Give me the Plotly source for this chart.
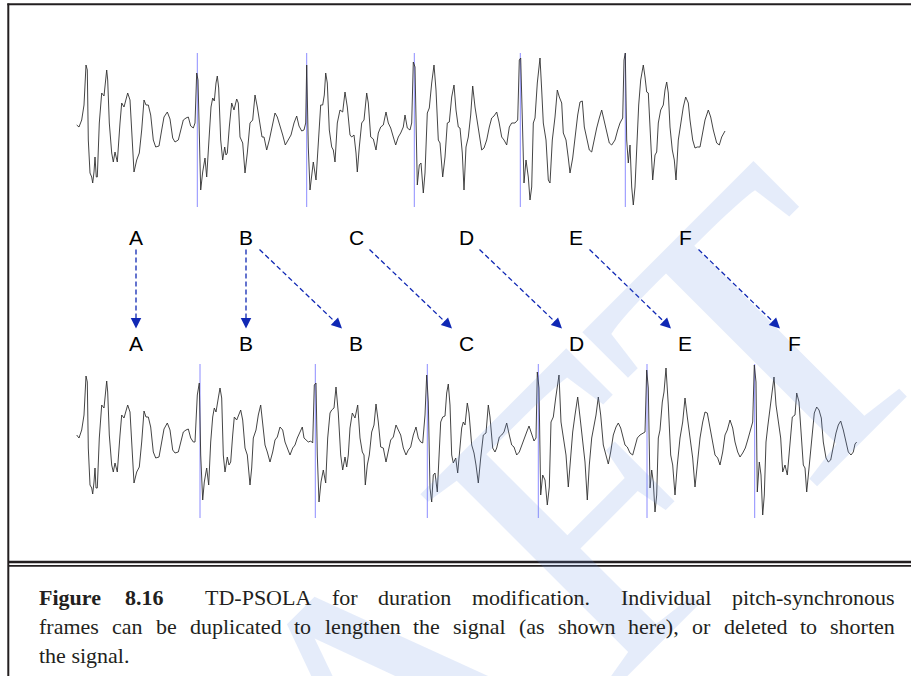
import plotly.graph_objects as go

# ---------------- data ----------------
# time axis in samples, amplitude in arbitrary units (baseline = 0)
top_t = [0.7, 3, 5.7, 8, 10, 11.3, 12.3, 14, 15.7, 16.7,
         18, 19, 20.3, 21.3, 23.3, 25.7, 28, 30.7, 31.7, 33.3,
         35.7, 37.3, 39, 41.3, 44, 45.7, 48, 51.7, 54, 55.7,
         58, 60.7, 63.3, 65.7, 68, 70, 72.3, 74.7, 77.3, 79.7,
         83, 85.7, 88, 91.3, 94, 96.7, 99, 102.3, 104.7, 107.3,
         110, 112.3, 114.7, 117.3, 119, 120.7, 122, 123.3, 124.7, 126.7,
         129, 130.7, 133.3, 135, 136.7, 138.3, 140, 141.3, 142.7, 144.7,
         146.7, 148.7, 150, 151.3, 153.3, 155.7, 158, 160.7, 162.3, 164,
         166.7, 169, 171.3, 174, 176.7, 179, 181.3, 184, 186, 188,
         190.7, 193.3, 195.7, 199, 201.3, 204, 206.7, 209.3, 212.3, 215,
         218, 220.7, 223, 225.7, 228, 229.7, 230.7, 232.3, 234, 235.7,
         237.3, 240, 242.3, 244.7, 246.7, 248.3, 249.7, 251.3, 253.3, 255.7,
         257.3, 259, 261.3, 264, 266.7, 269, 271.3, 274, 275.7, 278,
         280, 281.3, 283.3, 285.7, 288, 290.7, 292.3, 294.7, 297.3, 300,
         302.3, 304.7, 307.3, 310, 312.3, 314.7, 317.3, 319.7, 322.3, 324.7,
         327.3, 329, 331.3, 334, 335.7, 337.3, 339, 340, 341.3, 343.3,
         345, 347.3, 349, 351.3, 353.3, 355.7, 358, 360, 362.3, 364,
         366.7, 369, 371.3, 373.3, 375.7, 378, 380, 382.3, 384, 386.3,
         388, 390, 392.3, 394.7, 396.7, 399, 400.7, 403.3, 405.7, 408,
         410.7, 413.3, 415.7, 418, 420.7, 423, 425.7, 428, 430.7, 433.3,
         435.7, 439, 441.7, 443.3, 444.7, 446.7, 448, 450, 452.3, 454,
         455.7, 457.3, 459, 461.3, 464, 465.7, 467.3, 470, 472.3, 474,
         476.3, 479, 481.3, 483.3, 485.7, 487.3, 490, 492.3, 494, 496.7,
         499, 501.7, 504, 506.3, 508.3, 510.7, 513.3, 515.7, 518, 520.7,
         523.3, 525.7, 528, 530.7, 533.3, 535.7, 539, 541.7, 544, 546.7,
         548, 549.3, 550.7, 552.3, 554, 555.7, 557.3, 559, 560.7, 562.7,
         564.7, 567.3, 569, 570.7, 572.3, 574.7, 576.7, 579, 580.7, 582.3,
         584.7, 587.3, 589, 590.7, 592.3, 594, 596.3, 598.3, 600, 602.3,
         604.7, 607.3, 609.7, 612.3, 614, 616.7, 619, 621.3, 624, 626.7,
         629, 632.3, 634.7, 637.3, 640.7, 643.3, 645.7, 649]
top_a = [5, 3, 10, 25, 65, 60, -10, -43, -47, -53,
         -42, -27, -47, -47, 7, 37, 34, 60, 50, 7,
         -23, -32, -22, -32, 7, 27, 23, 37, 30, 3,
         -42, -30, -23, 0, 30, 25, 25, 15, -10, -17,
         -16, 0, 13, 18, 11, -8, -12, -10, 0, 10,
         12, 13, 4, 2, 7, 57, 50, -17, -60, -42,
         -28, -47, 0, 23, 32, 29, 47, 54, 42, -10,
         -30, -17, -25, -23, 3, 27, 20, 31, 27, -7,
         -13, -43, -23, 7, 10, 35, 23, 7, -7, -7,
         -20, -10, 2, 17, 13, 5, -5, -15, -10, -5,
         7, 14, 4, -1, 0, 7, 65, -17, -60, -43,
         -32, -50, -7, 25, 25, 35, 57, 47, 0, -17,
         -20, -32, 7, 20, 18, 38, 23, -5, -7, -5,
         -23, -42, -17, 7, 10, 37, 27, -7, -9, -20,
         -3, 3, 5, 18, 7, 2, -7, -15, -7, -3,
         3, 15, 2, 0, 7, 68, 63, 7, -55, -35,
         -33, -63, -43, 17, 22, 47, 65, 40, -10, -13,
         -47, -27, 7, 8, 33, 45, 20, 3, 2, -23,
         -60, -17, -7, 15, 44, 23, 12, -3, -20, -18,
         -10, 3, 12, 14, 18, 8, -7, -10, -15, 3,
         7, 7, 10, 70, 72, -3, -53, -30, -47, -70,
         -57, 7, 12, 47, 72, 40, 7, -10, -50, -53,
         -10, 13, 40, 33, 27, -3, -10, -28, -43, -28,
         -7, 15, 28, 29, 3, -10, -20, -22, -10, 2,
         12, 20, 10, -2, -13, -15, -10, 0, 7, 12,
         70, 77, -10, -33, -15, -57, -75, -57, -10, 25,
         50, 65, 53, 38, 37, -10, -50, -25, -22, 7,
         20, 25, 40, 48, 37, 3, -20, -30, -50, -10,
         5, 23, 33, 27, 10, -10, -18, -17, -17, 0,
         10, 20, 13, 0, -13, -15, -7, -1]

bottom_t = [0.7, 3, 5.7, 8, 10, 11.3, 12.3, 14, 15.7, 16.7,
            18, 19, 20, 21.3, 23.3, 25.7, 28, 30.7, 31.7, 33.3,
            35.7, 37.3, 39, 41.3, 44, 45.7, 48, 51.7, 54, 55.7,
            58, 60.7, 63.3, 65.7, 68, 70, 72.3, 74.7, 77.3, 79.7,
            83, 85.7, 88, 91.3, 94, 96.7, 99, 102.3, 104.7, 107.3,
            110, 112.3, 114.7, 117.3, 119, 121.3, 123.3, 124.7, 126.7, 128.3,
            130.7, 132.7, 134.7, 136.7, 138.3, 140, 142.3, 144, 145.7, 147.3,
            149, 151.3, 153, 154.7, 156.7, 158.3, 160.7, 163, 164.7, 166.7,
            169, 171.3, 174, 175.7, 177.3, 180, 182.3, 184.7, 186.7, 189,
            191.3, 194, 196.7, 199, 201.3, 204, 206.7, 209, 211.3, 214,
            216.7, 219, 221.3, 224, 226.3, 228, 230, 232.3, 234.7, 236.7,
            238.3, 240, 241.3, 243, 245, 247.3, 249.7, 251.7, 254, 255.7,
            258, 260, 262.3, 264.7, 266.7, 269, 270.7, 272.3, 274, 276.3,
            279, 281.7, 284, 286.3, 288, 289.3, 291.3, 293.3, 295.7, 298,
            300, 302.3, 304.7, 307.3, 310, 312.3, 314.7, 317.3, 320, 322.3,
            324.7, 327.3, 330, 332.3, 334.7, 337.3, 340, 342.3, 344.7, 346.7,
            349, 350.7, 352.3, 354, 355.7, 357.3, 359, 361.3, 363.3, 364.7,
            366.7, 369, 370.7, 372.3, 374, 375.7, 377.3, 379.7, 381.7, 384,
            385.7, 387.3, 389, 391.3, 393, 395.7, 398, 400, 402.3, 404.7,
            407.3, 410, 412.3, 414, 416.7, 419, 420.7, 423.3, 425.7, 428,
            430.7, 433.3, 435.7, 438, 440.7, 443.3, 445.7, 448, 450.7, 453,
            455.7, 458, 460, 461.3, 463, 464.7, 466.7, 469, 471.3, 473.3,
            475, 477.3, 479.7, 481.3, 483, 485, 487.3, 490, 492.3, 494.7,
            496.7, 499, 501.7, 504, 506.3, 509, 511.3, 513.3, 515.7, 518,
            520, 522.3, 524.7, 527.3, 530, 532.3, 534.7, 537.3, 540, 542.3,
            544.7, 546.7, 549, 551.3, 554, 556.7, 559, 561.3, 564, 566.7,
            569, 570.7, 572.3, 574, 575.7, 577.3, 579, 580.7, 582.3, 584,
            586.3, 588, 590, 592.3, 594.7, 596.7, 599, 601.3, 604, 606.7,
            609, 611.3, 614, 616.7, 619, 621.3, 624, 626.7, 629, 631.3,
            634, 636.7, 639, 641.7, 644, 646.7, 649, 651.3, 654, 656.7,
            659, 661.7, 664, 666.7, 669.3, 671.7, 674, 676.7, 678.3, 680,
            681.3, 683.3, 685, 686.7, 688.3, 690, 691.7, 694, 695.7, 698,
            700, 702.3, 704.7, 706.7, 709, 711.3, 714, 716.3, 719, 720.7,
            723, 725, 727.3, 729, 730.7, 733.3, 735.7, 738.3, 740.7, 743,
            745.3, 747.3, 750, 752.3, 754.7, 757.3, 760, 762.3, 764.7, 767.3,
            770, 772.3, 775, 777.3, 779, 780.7]
bottom_a = [6, 3, 11, 26, 65, 59, -7, -44, -47, -53,
            -41, -27, -47, -47, 3, 36, 33, 60, 49, 6,
            -24, -31, -22, -31, 6, 26, 23, 36, 29, 3,
            -42, -31, -26, -1, 30, 24, 24, 14, -11, -17,
            -16, -1, 12, 18, 11, -9, -12, -11, -1, 9,
            11, 12, 3, -1, -1, 46, 58, -14, -59, -41,
            -27, -44, -1, 24, 33, 29, 43, 53, 43, -14,
            -31, -16, -24, -21, 6, 24, 21, 28, 31, 21,
            -7, -14, -44, -27, 3, 11, 26, 36, 19, -4,
            -11, -21, -11, 1, 4, 14, 11, -1, -7, -14,
            -7, -4, 3, 9, 14, 3, 1, -1, 0, -2,
            56, 58, -14, -61, -41, -29, -42, 3, 28, 31,
            33, 54, 28, -14, -29, -16, -26, -14, 13, 28,
            23, 36, 3, -11, -14, -44, -24, -14, 9, 16,
            37, 19, -6, -7, -21, -9, 1, 4, 16, 11,
            6, -7, -14, -9, -6, 6, 14, 3, -1, -2,
            26, 66, 39, -47, -61, -34, -32, -51, -14, 19,
            24, 25, 48, 57, 36, -14, -22, -17, -32, -7,
            13, 19, 16, 38, 28, -4, -12, -24, -42, -17,
            6, 8, 36, 24, -7, -11, -7, 4, 6, 9,
            18, 6, -4, -6, -14, -11, -4, 3, 9, 15,
            6, 0, 3, 69, 53, -54, -34, -39, -64, -46,
            19, 24, 43, 56, 66, 19, 3, -14, -46, -14,
            9, 26, 44, 24, 4, -21, -59, -24, 3, 16,
            26, 44, 26, -4, -14, -23, -11, 6, 14, 18,
            13, 6, -4, -6, -12, -14, -6, 3, 6, 8,
            9, 71, 53, -47, -29, -41, -71, -54, 3, 11,
            39, 49, 73, 36, -14, -24, -54, -24, 3, 19,
            43, 24, 6, -17, -46, -24, 3, 19, 29, 28,
            13, -2, -14, -17, -24, -11, 6, 11, 21, 13,
            -1, -11, -16, -12, -7, 1, 9, 19, 76, 59,
            -51, -21, -34, -74, -54, -1, 14, 33, 43, 64,
            36, 19, 3, -31, -24, -34, -1, 24, 26, 48,
            39, 6, -24, -27, -51, -24, 3, 28, 34, 31,
            23, -1, -17, -21, -19, -4, 8, 16, 20, 11,
            -1, -11, -14, -11, -3, -1]

top_marks = [121.3, 230.7, 338.3, 444.3, 549.3]
bottom_marks = [124, 239.3, 351.3, 462.3, 571, 678.7]

top_labels = ["A", "B", "C", "D", "E", "F"]
bottom_labels = ["A", "B", "B", "C", "D", "E", "F"]
bottom_source = [0, 1, 1, 2, 3, 4, 5]          # which original frame each new frame copies
label_columns = [60, 170, 280, 390, 500, 609, 718]

caption_line1 = ["Figure", "8.16", "TD-PSOLA", "for", "duration", "modification.",
                 "Individual", "pitch-synchronous"]
caption_line1_bold = [True, True, False, False, False, False, False, False]
caption_line2 = ["frames", "can", "be", "duplicated", "to", "lengthen", "the", "signal",
                 "(as", "shown", "here),", "or", "deleted", "to", "shorten"]
caption_line3 = ["the signal."]

assert len(top_t) == len(top_a) and len(bottom_t) == len(bottom_a)

# ---------------- figure ----------------
W, H = 911, 676


def fx(p):
    return p / W


def fy(p):
    return 1 - p / H


WAVE = "#303030"
MARK = "#8c8cff"
ARROW = "#1028b4"

fig = go.Figure()


def mark_trace(marks, xa, ya):
    xs, ys = [], []
    for m in marks:
        xs += [m, m, None]
        ys += [-77, 77, None]
    return go.Scatter(x=xs, y=ys, mode="lines", xaxis=xa, yaxis=ya,
                      line=dict(color=MARK, width=1), hoverinfo="skip",
                      showlegend=False)


fig.add_trace(mark_trace(top_marks, "x", "y"))
fig.add_trace(go.Scatter(x=top_t, y=top_a, mode="lines", xaxis="x", yaxis="y",
                         line=dict(color=WAVE, width=0.9), showlegend=False))
fig.add_trace(mark_trace(bottom_marks, "x2", "y2"))
fig.add_trace(go.Scatter(x=bottom_t, y=bottom_a, mode="lines", xaxis="x2", yaxis="y2",
                         line=dict(color=WAVE, width=0.9), showlegend=False))

annotations = []
shapes = []

# watermark (behind the texts)
annotations.append(dict(text="DRAFT", x=fx(366), y=fy(738), xref="paper", yref="paper",
                        showarrow=False, textangle=-45,
                        font=dict(family="Liberation Serif", size=420,
                                  color="rgba(102,143,226,0.17)"),
                        xanchor="center", yanchor="middle"))

# letters
y_top_lab, y_bot_lab = fy(237), fy(343)
for i, lab in enumerate(top_labels):
    annotations.append(dict(text=lab, x=label_columns[i], y=y_top_lab, xref="x", yref="paper",
                            showarrow=False, xanchor="center", yanchor="middle",
                            font=dict(family="Liberation Sans", size=21, color="black")))
for j, lab in enumerate(bottom_labels):
    annotations.append(dict(text=lab, x=label_columns[j], y=y_bot_lab, xref="x", yref="paper",
                            showarrow=False, xanchor="center", yanchor="middle",
                            font=dict(family="Liberation Sans", size=21, color="black")))

# arrows
y0a, y1a = fy(249.5), fy(328.5)
for j, i in enumerate(bottom_source):
    if i == j:
        x0 = x1 = label_columns[j]
        dxp, dyp = 0.0, 1.0
    else:
        x0 = label_columns[i] + 13.5
        x1 = label_columns[j] - 14
        dxp, dyp = (x1 - x0), (328.5 - 249.5)
        n = (dxp ** 2 + dyp ** 2) ** 0.5
        dxp, dyp = dxp / n, dyp / n
    shapes.append(dict(type="line", xref="x", yref="paper", x0=x0, x1=x1 - dxp * 6,
                       y0=y0a, y1=fy(328.5 - dyp * 6),
                       line=dict(color=ARROW, width=1.3, dash="5px,3px")))
    annotations.append(dict(text="", x=x1, y=y1a, xref="x", yref="paper", showarrow=True,
                            ax=-dxp * 12, ay=-dyp * 12, arrowhead=2, arrowsize=1.5,
                            arrowwidth=1.4, arrowcolor=ARROW, standoff=0))

# borders
BORDER = "#231f20"
shapes += [
    dict(type="line", xref="paper", yref="paper", x0=fx(8.3), x1=fx(8.3), y0=fy(3.5), y1=-0.01,
         line=dict(color=BORDER, width=2)),
    dict(type="line", xref="paper", yref="paper", x0=fx(7.3), x1=1.01, y0=fy(4.3), y1=fy(4.3),
         line=dict(color=BORDER, width=2)),
    dict(type="line", xref="paper", yref="paper", x0=fx(8.3), x1=1.01, y0=fy(562), y1=fy(562),
         line=dict(color=BORDER, width=2.7)),
    dict(type="line", xref="paper", yref="paper", x0=fx(8.3), x1=1.01, y0=fy(565.8), y1=fy(565.8),
         line=dict(color=BORDER, width=1.8)),
]

# caption (justified: word positions follow the reference layout)
CAP = dict(family="Liberation Serif", size=22, color="#231f20")
line1_x = [37, 123, 203, 330, 376.4, 470.4, 619.3, 730.4]
line2_x = [37, 110, 153.6, 187.5, 292.3, 322.5, 411.4, 451.4, 517.1, 555.9, 626.4,
           690.2, 721.6, 798.2, 828.4]
line3_x = [37]


def cap(text, xp, yp, bold=False):
    annotations.append(dict(text=("<b>%s</b>" % text) if bold else text,
                            x=fx(xp), y=fy(yp), xref="paper", yref="paper",
                            showarrow=False, xanchor="left", yanchor="middle", font=CAP))


for w, xp, b in zip(caption_line1, line1_x, caption_line1_bold):
    cap(w, xp, 597, b)
for w, xp in zip(caption_line2, line2_x):
    cap(w, xp, 626)
for w, xp in zip(caption_line3, line3_x):
    cap(w, xp, 655)

axis_off = dict(visible=False, showgrid=False, zeroline=False, fixedrange=True)
fig.update_layout(
    width=W, height=H, margin=dict(l=0, r=0, t=0, b=0),
    paper_bgcolor="white", plot_bgcolor="rgba(0,0,0,0)",
    showlegend=False,
    xaxis=dict(domain=[0, 1], range=[-76, W - 76], anchor="y", **axis_off),
    yaxis=dict(domain=[fy(207), fy(53)], range=[-77, 77], anchor="x", **axis_off),
    xaxis2=dict(domain=[0, 1], range=[-76, W - 76], anchor="y2", **axis_off),
    yaxis2=dict(domain=[fy(518), fy(364)], range=[-77, 77], anchor="x2", **axis_off),
    annotations=annotations,
    shapes=shapes,
)

fig.write_html("out.html", config={"displayModeBar": False},
               post_script="document.body.style.margin='0px';")
